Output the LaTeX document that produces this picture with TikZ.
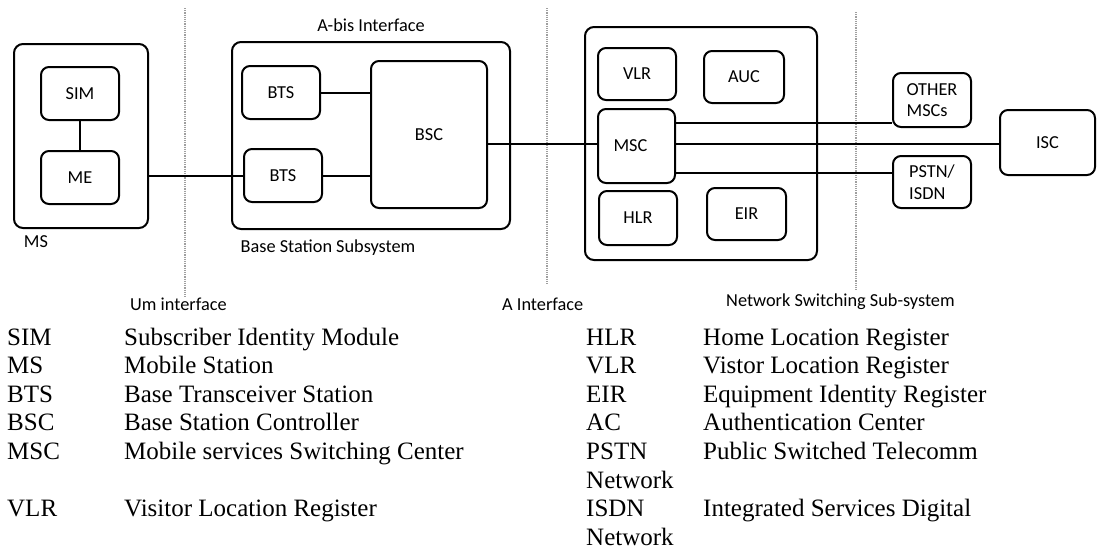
\documentclass[tikz,border=0pt]{standalone}
\usepackage{fontspec}
\setmainfont{Liberation Serif}
\newfontfamily\diagfont{Carlito}
\begin{document}
\begin{tikzpicture}[x=1pt,y=-1pt,
  sans/.style={font=\diagfont\fontsize{18.3}{21.5}\selectfont},
  box/.style={sans,draw,line width=2pt,rounded corners=8pt,inner sep=0pt,align=left},
  outer/.style={draw,line width=2pt,rounded corners=9pt,inner sep=0pt},
  link/.style={line width=2pt},
  iface/.style={gray!75,line width=1.2pt,densely dotted},
  lbl/.style={sans,inner sep=0pt},
  leg/.style={font=\fontsize{25}{28.6}\selectfont,anchor=base west,inner sep=0pt}]
\useasboundingbox (0,0) rectangle (1097,549);

% interface separators
\coordinate (u1) at (185,8);   \coordinate (u2) at (185,297);
\coordinate (a1) at (547,8);   \coordinate (a2) at (547,285);
\coordinate (n1) at (856,12);  \coordinate (n2) at (856,290);
\draw[iface] (u1) -- (u2);
\draw[iface] (a1) -- (a2);
\draw[iface] (n1) -- (n2);

% outer boxes
\node[outer,minimum width=134pt,minimum height=184pt] (ms) at (81,136) {};
\node[outer,minimum width=278pt,minimum height=187pt] (bss) at (371,135.5) {};
\node[outer,minimum width=232pt,minimum height=233pt] (nss) at (701,143.5) {};

% MS
\node[box,minimum width=78pt,minimum height=53pt] (sim) at (80,93.5) {SIM};
\node[box,minimum width=78pt,minimum height=53pt] (me) at (80,177.5) {ME};
% BSS
\node[box,minimum width=78pt,minimum height=53pt] (bts1) at (281,92.5) {BTS};
\node[box,minimum width=78pt,minimum height=53pt] (bts2) at (283,175.5) {BTS};
\node[box,minimum width=116pt,minimum height=147pt] (bsc) at (429,134.5) {BSC};
% NSS
\node[box,minimum width=78pt,minimum height=52pt] (vlr) at (637,74) {VLR};
\node[box,minimum width=80pt,minimum height=52pt] (auc) at (744,77) {AUC};
\node[box,minimum width=77pt,minimum height=74pt] (msc) at (636.5,146) {\hspace*{-12pt}MSC};
\node[box,minimum width=78pt,minimum height=54pt] (hlr) at (638,218) {HLR};
\node[box,minimum width=79pt,minimum height=52pt] (eir) at (746.5,214) {EIR};
% external
\node[box,minimum width=78pt,minimum height=54pt] (other) at (932,100) {OTHER\\MSCs};
\node[box,minimum width=78pt,minimum height=52pt] (pstn) at (932,182) {PSTN/\\ISDN};
\node[box,minimum width=95pt,minimum height=65pt] (isc) at (1047.5,142.5) {ISC};

% connectors
\draw[link] (sim) -- (me);
\draw[link] (ms.east |- bts2.west) -- (bts2.west);
\draw[link] (bts1.east) -- (bts1.east -| bsc.west);
\draw[link] (bts2.east) -- (bts2.east -| bsc.west);
\coordinate (am) at (0,144);
\draw[link] (bsc.east |- am) -- (msc.west |- am);
\coordinate (l1) at (0,123);
\coordinate (l2) at (0,143.5);
\coordinate (l3) at (0,173);
\draw[link] (msc.east |- l1) -- (other.west |- l1);
\draw[link] (msc.east |- l2) -- (isc.west |- l2);
\draw[link] (msc.east |- l3) -- (pstn.west |- l3);

% labels
\node[lbl] (lms) at (36,242) {MS};
\node[lbl] (labis) at (371,25) {A-bis Interface};
\node[lbl] (lbss) at (328,248) {Base Station Subsystem};
\node[lbl,anchor=west] (lum) at (130,304) {Um interface};
\node[lbl,anchor=west] (la) at (502,304) {A Interface};
\node[lbl,anchor=west] (lnss) at (726,302) {Network Switching Sub-system};

% legend left
\node[leg] (k1) at (7,345) {SIM};     \node[leg] (d1) at (124,345) {Subscriber Identity Module};
\node[leg] (k2) at (7,373.6) {MS};    \node[leg] (d2) at (124,373.6) {Mobile Station};
\node[leg] (k3) at (7,402.2) {BTS};   \node[leg] (d3) at (124,402.2) {Base Transceiver Station};
\node[leg] (k4) at (7,430.8) {BSC};   \node[leg] (d4) at (124,430.8) {Base Station Controller};
\node[leg] (k5) at (7,459.4) {MSC};   \node[leg] (d5) at (124,459.4) {Mobile services Switching Center};
\node[leg] (k6) at (7,516.6) {VLR};   \node[leg] (d6) at (124,516.6) {Visitor Location Register};
% legend right
\node[leg] (r1) at (586,345) {HLR};     \node[leg] (e1) at (703,345) {Home Location Register};
\node[leg] (r2) at (586,373.6) {VLR};   \node[leg] (e2) at (703,373.6) {Vistor Location Register};
\node[leg] (r3) at (586,402.2) {EIR};   \node[leg] (e3) at (703,402.2) {Equipment Identity Register};
\node[leg] (r4) at (586,430.8) {AC};    \node[leg] (e4) at (703,430.8) {Authentication Center};
\node[leg] (r5) at (586,459.4) {PSTN};  \node[leg] (e5) at (703,459.4) {Public Switched Telecomm};
\node[leg] (r6) at (586,488) {Network};
\node[leg] (r7) at (586,516.6) {ISDN};  \node[leg] (e7) at (703,516.6) {Integrated Services Digital};
\node[leg] (r8) at (586,545.2) {Network};
\end{tikzpicture}
\end{document}
